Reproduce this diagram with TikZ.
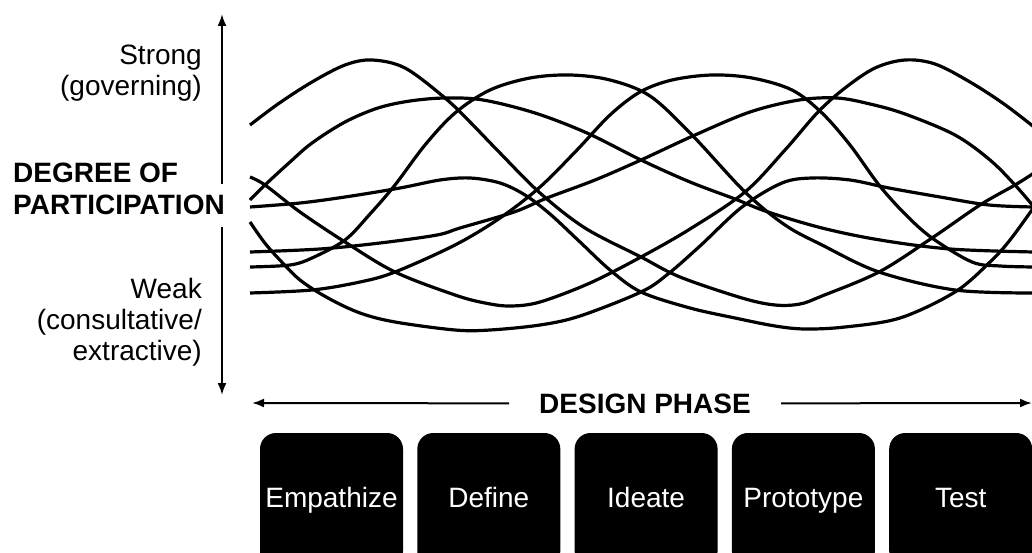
\documentclass[tikz,border=0pt]{standalone}
\usepackage{fontspec}
\setmainfont{Liberation Sans}
\usetikzlibrary{arrows.meta}
\begin{document}
\begin{tikzpicture}[x=1pt,y=-1pt,
  wave/.style={line width=3.2pt},
  axisline/.style={line width=2pt},
  tipstyle/.style={-{Latex[length=12pt,width=9pt]}},
  lbl/.style={font=\fontsize{28}{31}\selectfont, inner sep=0pt},
  boldlbl/.style={font=\fontsize{28}{32}\selectfont\bfseries, inner sep=0pt},
  phase/.style={fill=black, text=white, rounded corners=16pt,
    minimum width=143pt, minimum height=134pt, inner sep=0pt,
    text height=20pt, text depth=6pt,
    font=\fontsize{28}{31}\selectfont}]
\clip (0,0) rectangle (1032,553);
\fill[white] (0,0) rectangle (1032,553);

% ---- waves ----
\draw[wave] plot[smooth,tension=0.55] coordinates {(250,125) (278,104) (312,82) (345,65) (372,60) (405,68) (445,98) (470,122) (500,153) (540,193) (585,228) (641,257) (680,277) (742,298) (775,305) (800,304) (822,296) (879,272) (932,238) (980,205) (1015,185) (1034,173)};
\draw[wave] plot[smooth,tension=0.55] coordinates {(250,200) (265,185) (290,162) (312,143) (345,122) (378,108) (410,101) (445,98) (483,100) (535,113) (587,133) (641,160) (690,182) (735,199) (768,212) (822,228) (880,240) (950,249) (1034,252)};
\draw[wave] plot[smooth,tension=0.55] coordinates {(250,177) (265,185) (300,212) (345,242) (395,272) (455,295) (485,303) (510,306) (540,302) (590,283) (641,257) (690,229) (745,192) (785,150) (818,112) (845,88) (875,68) (905,60) (935,64) (970,82) (1004,104) (1034,127)};
\draw[wave] plot[smooth,tension=0.55] coordinates {(250,207) (300,203) (345,197) (400,188) (440,180) (470,178) (500,183) (525,195) (550,214) (580,242) (610,270) (641,292) (690,308) (735,318) (775,326) (805,329) (845,327) (900,318) (955,292) (990,262) (1010,240) (1034,207)};
\draw[wave] plot[smooth,tension=0.55] coordinates {(250,267) (290,265) (312,258) (345,240) (370,214) (395,185) (425,145) (455,113) (490,90) (530,78) (570,75) (610,80) (650,96) (692,135) (745,192) (785,225) (822,245) (879,272) (955,290) (1034,293)};
\draw[wave] plot[smooth,tension=0.55] coordinates {(250,252) (320,249) (380,243) (437,235) (460,228) (514,212) (547,198) (595,180) (641,160) (695,135) (750,112) (799,100) (837,98) (870,104) (905,114) (955,135) (990,160) (1015,185) (1034,207)};
\draw[wave] plot[smooth,tension=0.55] coordinates {(250,293) (312,290) (360,282) (395,272) (455,245) (500,218) (540,187) (577,150) (610,115) (640,92) (672,80) (712,75) (752,78) (792,90) (822,113) (850,145) (879,185) (905,214) (932,238) (972,262) (1000,266) (1034,267)};
\draw[wave] plot[smooth,tension=0.55] coordinates {(250,222) (264,242) (278,258) (300,280) (328,298) (360,313) (395,322) (455,330) (490,330) (540,325) (580,316) (641,292) (668,274) (700,246) (742,207) (782,183) (812,178) (850,180) (889,188) (940,197) (989,205) (1034,207)};

% ---- vertical axis ----
\node[lbl, align=right, anchor=north east] (strong) at (202,44.5) {Strong\\(governing)};
\node[boldlbl, align=left, anchor=north west] (dop) at (13,163) {DEGREE OF\\PARTICIPATION};
\node[lbl, align=right, anchor=north east] (weak) at (202,278) {Weak\\(consultative/\\extractive)};
\coordinate (vtop) at (222,14);
\coordinate (vup) at (222,184);
\coordinate (vlo) at (222,227);
\coordinate (vbot) at (222,395);
\draw[axisline,tipstyle] (vup) -- (vtop);
\draw[axisline,tipstyle] (vlo) -- (vbot);

% ---- horizontal axis ----
\node[boldlbl, inner xsep=30pt, anchor=base] (dp) at (645,413) {DESIGN PHASE};
\coordinate (hl) at (252,403);
\coordinate (hr) at (1032,403);
\draw[axisline,tipstyle] (dp.west) -- (hl);
\draw[axisline,tipstyle] (dp.east) -- (hr);

% ---- phases ----
\node[phase] (p1) at (331.5,500) {Empathize};
\node[phase] (p2) at (488.8,500) {Define};
\node[phase] (p3) at (646.1,500) {Ideate};
\node[phase] (p4) at (803.4,500) {Prototype};
\node[phase] (p5) at (960.7,500) {Test};
\end{tikzpicture}
\end{document}
